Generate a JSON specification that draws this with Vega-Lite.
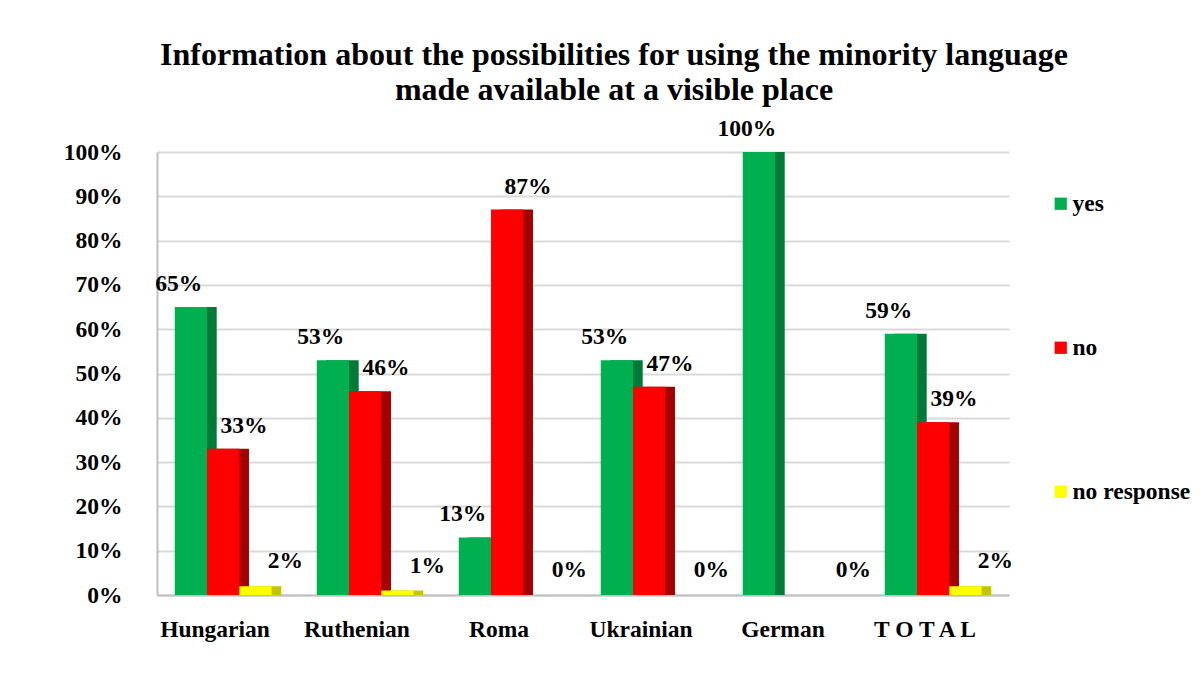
{
  "$schema": "https://vega.github.io/schema/vega-lite/v6.json",
  "autosize": {"type": "none"},
  "width": 852,
  "height": 443,
  "padding": {"left": 157, "top": 152, "right": 194, "bottom": 82},
  "background": "white",
  "title": {
    "text": ["Information about the possibilities for using the minority language", "made available at a visible place"],
    "font": "Liberation Serif",
    "fontSize": 32,
    "fontWeight": "bold",
    "color": "#000000",
    "lineHeight": 35,
    "anchor": "middle",
    "dx": 31,
    "offset": 10
  },
  "data": {
    "values": [
      {"language": "Hungarian", "answer": "yes", "value": 0.65},
      {"language": "Hungarian", "answer": "no", "value": 0.33},
      {"language": "Hungarian", "answer": "no response", "value": 0.02},
      {"language": "Ruthenian", "answer": "yes", "value": 0.53},
      {"language": "Ruthenian", "answer": "no", "value": 0.46},
      {"language": "Ruthenian", "answer": "no response", "value": 0.01},
      {"language": "Roma", "answer": "yes", "value": 0.13},
      {"language": "Roma", "answer": "no", "value": 0.87},
      {"language": "Roma", "answer": "no response", "value": 0.0},
      {"language": "Ukrainian", "answer": "yes", "value": 0.53},
      {"language": "Ukrainian", "answer": "no", "value": 0.47},
      {"language": "Ukrainian", "answer": "no response", "value": 0.0},
      {"language": "German", "answer": "yes", "value": 1.0},
      {"language": "German", "answer": "no", "value": 0.0},
      {"language": "German", "answer": "no response", "value": 0.0},
      {"language": "T O T A L", "answer": "yes", "value": 0.59},
      {"language": "T O T A L", "answer": "no", "value": 0.39},
      {"language": "T O T A L", "answer": "no response", "value": 0.02}
    ]
  },
  "encoding": {
    "x": {
      "field": "language",
      "type": "nominal",
      "sort": null,
      "scale": {"paddingInner": 0.25, "paddingOuter": 0.125},
      "axis": {
        "title": null,
        "labelAngle": 0,
        "labelFont": "Liberation Serif",
        "labelFontSize": 23.5,
        "labelFontWeight": "bold",
        "labelColor": "#000000",
        "labelPadding": 22,
        "labelOffset": -13,
        "ticks": false,
        "domainColor": "#bfbfbf",
        "domainWidth": 2
      }
    },
    "y": {
      "field": "value",
      "type": "quantitative",
      "scale": {"domain": [0, 1]},
      "axis": {
        "title": null,
        "format": ".0%",
        "values": [0, 0.1, 0.2, 0.3, 0.4, 0.5, 0.6, 0.7, 0.8, 0.9, 1.0],
        "labelOverlap": false,
        "labelFont": "Liberation Serif",
        "labelFontSize": 23.5,
        "labelFontWeight": "bold",
        "labelColor": "#000000",
        "labelPadding": 35,
        "ticks": false,
        "domainColor": "#bfbfbf",
        "domainWidth": 2,
        "gridColor": "#d9d9d9",
        "gridWidth": 2
      }
    }
  },
  "layer": [
    {
      "mark": {"type": "bar"},
      "encoding": {
        "xOffset": {
          "field": "answer",
          "type": "nominal",
          "sort": ["yes", "no", "no response"],
          "scale": {"paddingInner": 0, "paddingOuter": 0.15, "align": 1}
        },
        "fill": {
          "field": "answer",
          "type": "nominal",
          "scale": {"domain": ["yes", "no", "no response"], "range": ["#007A38", "#A50000", "#C4C400"]},
          "legend": null
        }
      }
    },
    {
      "mark": {"type": "bar"},
      "encoding": {
        "xOffset": {
          "field": "answer",
          "type": "nominal",
          "sort": ["yes", "no", "no response"],
          "scale": {"paddingInner": 0, "paddingOuter": 0.15, "align": 0}
        },
        "color": {
          "field": "answer",
          "type": "nominal",
          "scale": {"domain": ["yes", "no", "no response"], "range": ["#00B050", "#FF0000", "#FFFF00"]},
          "legend": {
            "title": null,
            "orient": "none",
            "legendX": 892,
            "legendY": 40,
            "symbolType": "square",
            "symbolSize": 150,
            "symbolStrokeWidth": 0,
            "labelFont": "Liberation Serif",
            "labelFontSize": 23.5,
            "labelFontWeight": "bold",
            "labelColor": "#000000",
            "rowPadding": 119,
            "labelOffset": 0
          }
        }
      }
    },
    {
      "transform": [{"filter": "datum.answer == 'yes'"}],
      "mark": {
        "type": "text",
        "dy": -23,
        "dx": 4,
        "baseline": "middle",
        "font": "Liberation Serif",
        "fontSize": 23.5,
        "fontWeight": "bold",
        "color": "#000000"
      },
      "encoding": {
        "xOffset": {
          "field": "answer",
          "type": "nominal",
          "scale": {"domain": ["yes", "no", "no response"], "paddingInner": 0, "paddingOuter": 0.15, "align": 0}
        },
        "text": {"field": "value", "type": "quantitative", "format": ".0%"}
      }
    },
    {
      "transform": [{"filter": "datum.answer == 'no' && datum.language != 'German'"}],
      "mark": {
        "type": "text",
        "dy": -23,
        "dx": 23,
        "baseline": "middle",
        "font": "Liberation Serif",
        "fontSize": 23.5,
        "fontWeight": "bold",
        "color": "#000000"
      },
      "encoding": {
        "xOffset": {
          "field": "answer",
          "type": "nominal",
          "scale": {"domain": ["yes", "no", "no response"], "paddingInner": 0, "paddingOuter": 0.15, "align": 0}
        },
        "text": {"field": "value", "type": "quantitative", "format": ".0%"}
      }
    },
    {
      "transform": [{"filter": "datum.answer == 'no response'"}],
      "mark": {
        "type": "text",
        "dy": -25,
        "dx": 18,
        "baseline": "middle",
        "font": "Liberation Serif",
        "fontSize": 23.5,
        "fontWeight": "bold",
        "color": "#000000"
      },
      "encoding": {
        "xOffset": {
          "field": "answer",
          "type": "nominal",
          "scale": {"domain": ["yes", "no", "no response"], "paddingInner": 0, "paddingOuter": 0.15, "align": 0}
        },
        "text": {"field": "value", "type": "quantitative", "format": ".0%"}
      }
    }
  ],
  "resolve": {"scale": {"xOffset": "independent", "color": "independent"}},
  "config": {
    "view": {"stroke": null}
  }
}
